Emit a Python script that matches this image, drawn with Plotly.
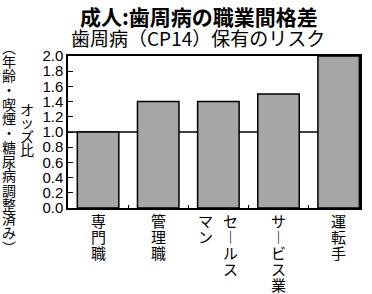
import plotly.graph_objects as go

# ---- data ----
categories = ["専門職", "管理職", "セールスマン", "サービス業", "運転手"]
label_columns = [["専門職"], ["管理職"], ["セールス", "マン"], ["サービス業"], ["運転手"]]
odds_ratio = [1.0, 1.4, 1.4, 1.5, 2.0]
y_tick_vals = [0.0, 0.2, 0.4, 0.6, 0.8, 1.0, 1.2, 1.4, 1.6, 1.8, 2.0]
y_tick_text = ["0.0", "0.2", "0.4", "0.6", "0.8", "1.0", "1.2", "1.4", "1.6", "1.8", "2.0"]
title_text = "成人:歯周病の職業間格差"
subtitle_text = "歯周病（CP14）保有のリスク"
ytitle_main = "オッズ比"
ytitle_note = "（年齢・喫煙・糖尿病調整済み）"
reference_level = 1.0

JP = "Noto Sans CJK JP"
VERT = {"ー": "︱", "（": "︵", "）": "︶"}

W, H = 372, 294
ML, MR, MT, MB = 68, 10, 56, 86

fig = go.Figure()
fig.add_trace(go.Bar(
    x=list(range(len(categories))), y=odds_ratio, width=0.69,
    marker=dict(color="#a6a6a6", line=dict(color="black", width=1.5)),
    hoverinfo="skip",
))

annotations = []

def char_ann(ch, x, xref, xshift, y, yshift, size):
    return dict(
        text=VERT.get(ch, ch), x=x, xref=xref, xshift=xshift,
        y=y, yref="paper", yshift=yshift,
        xanchor="center", yanchor="middle", showarrow=False, borderpad=0,
        font=dict(family=JP, size=size, color="black"),
    )

def vertical(text, xshift, y_top_shift, step, size):
    for k, ch in enumerate(text):
        annotations.append(char_ann(ch, 0, "paper", xshift, 1, y_top_shift - k * step, size))

# x category labels (vertical, columns right-to-left)
col_w = 25
for i, cols in enumerate(label_columns):
    n = len(cols)
    for j, col in enumerate(cols):
        xs = ((n - 1) / 2 - j) * col_w
        for k, ch in enumerate(col):
            annotations.append(char_ann(ch, i, "x", xs, 0, -(12 + k * 16.2), 15))

# y axis titles (vertical)
vertical(ytitle_main, -41, 56 - 108.5, 13.5, 14)
vertical(ytitle_note, -59.5, 56 - 46.5, 14.3, 14)

# titles
annotations.append(dict(text="<b>" + title_text + "</b>", x=0.45, xref="paper",
                        y=1, yref="paper", yshift=40, xanchor="center", yanchor="middle",
                        showarrow=False, font=dict(family=JP, size=21, color="black")))
annotations.append(dict(text=subtitle_text, x=0.445, xref="paper",
                        y=1, yref="paper", yshift=19, xanchor="center", yanchor="middle",
                        showarrow=False, font=dict(family=JP, size=19, color="black")))

fig.update_layout(
    width=W, height=H,
    margin=dict(l=ML, r=MR, t=MT, b=MB, pad=0),
    paper_bgcolor="white", plot_bgcolor="white",
    showlegend=False,
    annotations=annotations,
    shapes=[dict(type="line", xref="paper", x0=0, x1=1, yref="y",
                 y0=reference_level, y1=reference_level,
                 line=dict(color="black", width=1.5), layer="below")],
    xaxis=dict(range=[-0.5, 4.355], tickmode="array", tickvals=[0.5, 1.5, 2.5, 3.5],
               ticks="inside", ticklen=3, tickwidth=1, tickcolor="black",
               showticklabels=False, showline=True, mirror=True,
               linecolor="black", linewidth=1.5, showgrid=False, zeroline=False,
               fixedrange=True),
    yaxis=dict(range=[0, 2.0], tickmode="array", tickvals=y_tick_vals, ticktext=y_tick_text,
               ticks="inside", ticklen=5, tickwidth=1, tickcolor="black",
               showline=True, mirror=True, linecolor="black", linewidth=1.5,
               showgrid=False, zeroline=False, fixedrange=True,
               tickfont=dict(family="Liberation Sans", size=15, color="black")),
)

fig.write_html("out.html", config={"displayModeBar": False})
